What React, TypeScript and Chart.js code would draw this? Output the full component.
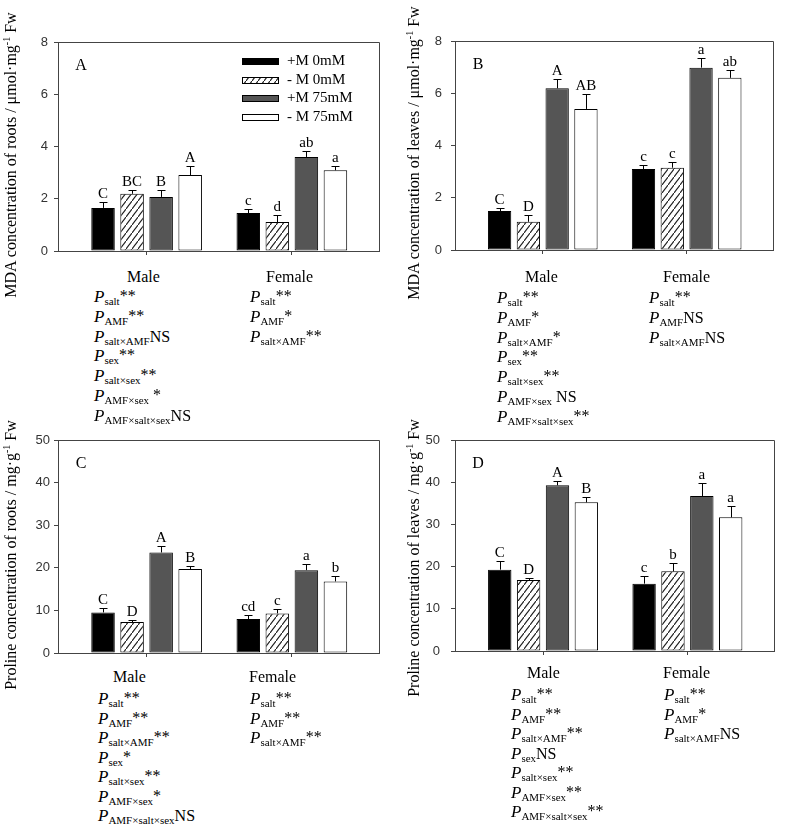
import React, { useEffect, useRef } from 'react';
import { Chart, registerables } from 'chart.js';
Chart.register(...registerables);

const SERIF = "'Liberation Serif', 'Times New Roman', serif";
const SANS = "'Liberation Sans', Arial, sans-serif";

const groups = ['Male', 'Female'];
const treatments = ['+M 0mM', '- M 0mM', '+M 75mM', '- M 75mM'];

// Panel A: MDA concentration of roots
const mdaRootsMale = [1.65, 2.19, 2.07, 2.91];
const mdaRootsMaleErr = [0.23, 0.15, 0.28, 0.33];
const mdaRootsMaleLetters = ['C', 'BC', 'B', 'A'];
const mdaRootsFemale = [1.45, 1.11, 3.6, 3.09];
const mdaRootsFemaleErr = [0.14, 0.28, 0.22, 0.16];
const mdaRootsFemaleLetters = ['c', 'd', 'ab', 'a'];

// Panel B: MDA concentration of leaves
const mdaLeavesMale = [1.49, 1.08, 6.19, 5.4];
const mdaLeavesMaleErr = [0.13, 0.25, 0.37, 0.56];
const mdaLeavesMaleLetters = ['C', 'D', 'A', 'AB'];
const mdaLeavesFemale = [3.1, 3.15, 6.98, 6.59];
const mdaLeavesFemaleErr = [0.14, 0.23, 0.38, 0.29];
const mdaLeavesFemaleLetters = ['c', 'c', 'a', 'ab'];

// Panel C: Proline concentration of roots
const proRootsMale = [9.53, 7.27, 23.6, 19.7];
const proRootsMaleErr = [1.0, 0.4, 1.56, 0.7];
const proRootsMaleLetters = ['C', 'D', 'A', 'B'];
const proRootsFemale = [7.97, 9.3, 19.45, 16.8];
const proRootsFemaleErr = [0.86, 1.0, 1.45, 1.33];
const proRootsFemaleLetters = ['cd', 'c', 'a', 'b'];

// Panel D: Proline concentration of leaves
const proLeavesMale = [19.27, 16.82, 39.26, 35.23];
const proLeavesMaleErr = [2.0, 0.4, 1.1, 1.2];
const proLeavesMaleLetters = ['C', 'D', 'A', 'B'];
const proLeavesFemale = [15.96, 18.88, 36.73, 31.67];
const proLeavesFemaleErr = [1.74, 1.9, 3.0, 2.7];
const proLeavesFemaleLetters = ['c', 'b', 'a', 'a'];

// ANOVA significance lists [subscript, mark]
const statsAMale = [['salt', '**'], ['AMF', '**'], ['salt×AMF', 'NS'], ['sex', '**'], ['salt×sex', '**'], ['AMF×sex', ' *'], ['AMF×salt×sex', 'NS']];
const statsAFemale = [['salt', '**'], ['AMF', '*'], ['salt×AMF', '**']];
const statsBMale = [['salt', '**'], ['AMF', '*'], ['salt×AMF', '*'], ['sex', '**'], ['salt×sex', '**'], ['AMF×sex', ' NS'], ['AMF×salt×sex', '**']];
const statsBFemale = [['salt', '**'], ['AMF', 'NS'], ['salt×AMF', 'NS']];
const statsCMale = [['salt', '**'], ['AMF', '**'], ['salt×AMF', '**'], ['sex', '*'], ['salt×sex', '**'], ['AMF×sex', '*'], ['AMF×salt×sex', 'NS']];
const statsCFemale = [['salt', '**'], ['AMF', '**'], ['salt×AMF', '**']];
const statsDMale = [['salt', '**'], ['AMF', '**'], ['salt×AMF', '**'], ['sex', 'NS'], ['salt×sex', '**'], ['AMF×sex', '**'], ['AMF×salt×sex', '**']];
const statsDFemale = [['salt', '**'], ['AMF', '*'], ['salt×AMF', 'NS']];

function makeHatch() {
  const w = 6, h = 8;
  const c = document.createElement('canvas');
  c.width = w; c.height = h;
  const g = c.getContext('2d')!;
  g.fillStyle = '#ffffff';
  g.fillRect(0, 0, w, h);
  g.strokeStyle = '#1a1a1a';
  g.lineWidth = 1.1;
  g.beginPath();
  g.moveTo(-1, h + 1.33); g.lineTo(w + 1, -1.33);
  g.stroke();
  return g.createPattern(c, 'repeat');
}

type PanelProps = {
  letter: string;
  box: { L: number; T: number; W: number; H: number };
  area: { l: number; t: number; r: number; b: number };
  yMax: number; yStep: number; tickPad: number;
  male: number[]; female: number[];
  maleErr: number[]; femaleErr: number[];
  maleLetters: string[]; femaleLetters: string[];
  legend?: boolean;
};

function Panel(p: PanelProps) {
  const ref = useRef<HTMLCanvasElement>(null);
  useEffect(() => {
    const canvas = ref.current!;
    const hatch = makeHatch();
    const fills: any[] = ['#000000', hatch, '#555555', '#ffffff'];
    const datasets = treatments.map((t, i) => ({
      label: t,
      data: [{ x: 0, y: p.male[i] }, { x: 1, y: p.female[i] }],
      errs: [p.maleErr[i], p.femaleErr[i]],
      letters: [p.maleLetters[i], p.femaleLetters[i]],
      backgroundColor: fills[i],
      borderColor: '#000000',
      borderWidth: 1,
      borderSkipped: false,
      categoryPercentage: 0.8,
      barPercentage: 0.81,
    }));
    const yW = p.area.l - p.box.L;
    const xH = p.box.T + p.box.H - p.area.b;
    const overlay = {
      id: 'overlay',
      afterDatasetsDraw(chart: any) {
        const { ctx, chartArea: ca } = chart;
        const y = chart.scales.y;
        ctx.save();
        ctx.strokeStyle = '#444444';
        ctx.lineWidth = 1;
        ctx.beginPath();
        ctx.moveTo(ca.left, Math.round(ca.top) + 0.5);
        ctx.lineTo(Math.round(ca.right) + 0.5, Math.round(ca.top) + 0.5);
        ctx.lineTo(Math.round(ca.right) + 0.5, ca.bottom);
        ctx.stroke();
        chart.data.datasets.forEach((ds: any, di: number) => {
          const meta = chart.getDatasetMeta(di);
          meta.data.forEach((bar: any, j: number) => {
            const v = ds.data[j].y;
            const yTop = y.getPixelForValue(v + ds.errs[j]);
            const x = Math.round(bar.x) + 0.5;
            ctx.strokeStyle = '#000000';
            ctx.beginPath();
            ctx.moveTo(x, bar.y);
            ctx.lineTo(x, Math.round(yTop) + 0.5);
            ctx.moveTo(x - 4, Math.round(yTop) + 0.5);
            ctx.lineTo(x + 4, Math.round(yTop) + 0.5);
            ctx.stroke();
            ctx.fillStyle = '#000000';
            ctx.font = `15px ${SERIF}`;
            ctx.textAlign = 'center';
            ctx.textBaseline = 'alphabetic';
            ctx.fillText(ds.letters[j], bar.x, yTop - 4);
          });
        });
        // panel letter
        ctx.fillStyle = '#000000';
        ctx.font = `16px ${SERIF}`;
        ctx.textAlign = 'center';
        ctx.textBaseline = 'middle';
        ctx.fillText(p.letter, ca.left + 23, ca.top + 24);
        if (p.legend) {
          chart.data.datasets.forEach((ds: any, i: number) => {
            const cy = ca.top + 19 + i * 18.7;
            const sx = Math.round(ca.right - 137) + 0.5;
            const sy = Math.round(cy - 3) + 0.5;
            ctx.fillStyle = ds.backgroundColor;
            ctx.fillRect(sx, sy, 36, 6);
            ctx.strokeStyle = '#000000';
            ctx.strokeRect(sx, sy, 36, 6);
            ctx.fillStyle = '#000000';
            ctx.font = `15px ${SERIF}`;
            ctx.textAlign = 'left';
            ctx.textBaseline = 'middle';
            ctx.fillText(ds.label, ca.right - 92, cy);
          });
        }
        ctx.restore();
      },
    };
    const chart = new Chart(canvas, {
      type: 'bar',
      data: { datasets: datasets as any },
      options: {
        responsive: false,
        animation: false,
        devicePixelRatio: 1,
        layout: { padding: { top: p.area.t - p.box.T, right: p.box.L + p.box.W - p.area.r, left: 0, bottom: 0 } },
        plugins: { legend: { display: false }, tooltip: { enabled: false } },
        scales: {
          x: {
            type: 'linear',
            min: -0.61,
            max: 1.6,
            bounds: 'data',
            offset: false,
            ticks: { display: false },
            grid: { drawOnChartArea: false, drawTicks: true, tickLength: 4, color: '#444444', offset: false },
            border: { color: '#444444' },
            afterBuildTicks: (s: any) => { s.ticks = [{ value: 0 }, { value: 1 }]; },
            afterFit: (s: any) => { s.height = xH; s.paddingLeft = 0; s.paddingRight = 0; },
          },
          y: {
            min: 0,
            max: p.yMax,
            ticks: { stepSize: p.yStep, font: { family: SANS, size: 13 }, color: '#333333', padding: p.tickPad },
            grid: { drawOnChartArea: false, drawTicks: true, tickLength: 4, color: '#444444' },
            border: { color: '#444444' },
            afterFit: (s: any) => { s.width = yW; s.paddingTop = 0; s.paddingBottom = 0; },
          },
        },
      } as any,
      plugins: [overlay],
    });
    return () => chart.destroy();
  }, []);
  return (
    <canvas
      ref={ref}
      width={p.box.W}
      height={p.box.H}
      style={{ position: 'absolute', left: p.box.L, top: p.box.T, width: p.box.W, height: p.box.H, display: 'block' }}
    />
  );
}

function YTitle({ cx, cy, pre, post }: { cx: number; cy: number; pre: string; post: string }) {
  return (
    <div
      style={{
        position: 'absolute', left: cx, top: cy, transform: 'translate(-50%,-50%) rotate(-90deg)',
        whiteSpace: 'nowrap', font: `16px ${SERIF}`, lineHeight: '20px', color: '#000',
      }}
    >
      {pre}
      <span style={{ fontSize: 10, position: 'relative', top: -6 }}>-1</span>
      {post}
    </div>
  );
}

function Label({ x, cy, text }: { x: number; cy: number; text: string }) {
  return (
    <div style={{ position: 'absolute', left: x, top: cy - 10, height: 20, lineHeight: '20px', font: `16px ${SERIF}`, whiteSpace: 'nowrap' }}>
      {text}
    </div>
  );
}

function Stats({ x, cy, gap, rows }: { x: number; cy: number; gap: number; rows: string[][] }) {
  return (
    <>
      {rows.map((r, i) => (
        <div
          key={i}
          style={{
            position: 'absolute', left: x, top: cy - 10 + i * gap, height: 20, lineHeight: '20px',
            font: `16px ${SERIF}`, whiteSpace: 'nowrap', color: '#000',
          }}
        >
          <i style={{ fontSize: 17 }}>P</i>
          <span style={{ fontSize: 11, position: 'relative', top: 3 }}>{r[0]}</span>
          {r[1].trim() === 'NS' ? (
            <span>{r[1]}</span>
          ) : (
            <span style={{ position: 'relative', top: -1 }}>{r[1]}</span>
          )}
        </div>
      ))}
    </>
  );
}

export default function App() {
  return (
    <div style={{ position: 'absolute', left: 0, top: 0, width: 787, height: 832, background: '#ffffff', overflow: 'hidden' }}>
      <Panel
        letter="A" box={{ L: 0, T: 25, W: 392, H: 235 }} area={{ l: 58, t: 42, r: 379, b: 251 }}
        yMax={8} yStep={2} tickPad={6}
        male={mdaRootsMale} female={mdaRootsFemale} maleErr={mdaRootsMaleErr} femaleErr={mdaRootsFemaleErr}
        maleLetters={mdaRootsMaleLetters} femaleLetters={mdaRootsFemaleLetters} legend
      />
      <Panel
        letter="B" box={{ L: 392, T: 25, W: 395, H: 235 }} area={{ l: 455, t: 41, r: 773, b: 250 }}
        yMax={8} yStep={2} tickPad={9}
        male={mdaLeavesMale} female={mdaLeavesFemale} maleErr={mdaLeavesMaleErr} femaleErr={mdaLeavesFemaleErr}
        maleLetters={mdaLeavesMaleLetters} femaleLetters={mdaLeavesFemaleLetters}
      />
      <Panel
        letter="C" box={{ L: 0, T: 425, W: 392, H: 235 }} area={{ l: 58, t: 440, r: 379, b: 653 }}
        yMax={50} yStep={10} tickPad={4}
        male={proRootsMale} female={proRootsFemale} maleErr={proRootsMaleErr} femaleErr={proRootsFemaleErr}
        maleLetters={proRootsMaleLetters} femaleLetters={proRootsFemaleLetters}
      />
      <Panel
        letter="D" box={{ L: 392, T: 425, W: 395, H: 235 }} area={{ l: 455, t: 440, r: 774, b: 651 }}
        yMax={50} yStep={10} tickPad={11}
        male={proLeavesMale} female={proLeavesFemale} maleErr={proLeavesMaleErr} femaleErr={proLeavesFemaleErr}
        maleLetters={proLeavesMaleLetters} femaleLetters={proLeavesFemaleLetters}
      />

      <YTitle cx={12} cy={155} pre="MDA concentration of roots / μmol·mg" post=" Fw" />
      <YTitle cx={415} cy={153} pre="MDA concentration of leaves / μmol·mg" post=" Fw" />
      <YTitle cx={12} cy={555} pre="Proline concentration of roots / mg·g" post=" Fw" />
      <YTitle cx={415} cy={558} pre="Proline concentration of leaves / mg·g" post=" Fw" />

      <Label x={127} cy={278} text={groups[0]} />
      <Label x={266} cy={278} text={groups[1]} />
      <Label x={525} cy={278} text={groups[0]} />
      <Label x={663} cy={278} text={groups[1]} />
      <Label x={113} cy={678} text={groups[0]} />
      <Label x={249} cy={678} text={groups[1]} />
      <Label x={527} cy={674} text={groups[0]} />
      <Label x={663} cy={674} text={groups[1]} />

      <Stats x={94} cy={297} gap={19.8} rows={statsAMale} />
      <Stats x={250} cy={297} gap={19.8} rows={statsAFemale} />
      <Stats x={497} cy={298} gap={19.8} rows={statsBMale} />
      <Stats x={649} cy={298} gap={19.8} rows={statsBFemale} />
      <Stats x={98} cy={699} gap={19.5} rows={statsCMale} />
      <Stats x={250} cy={699} gap={19.5} rows={statsCFemale} />
      <Stats x={511} cy={695} gap={19.5} rows={statsDMale} />
      <Stats x={664} cy={695} gap={19.5} rows={statsDFemale} />
    </div>
  );
}
